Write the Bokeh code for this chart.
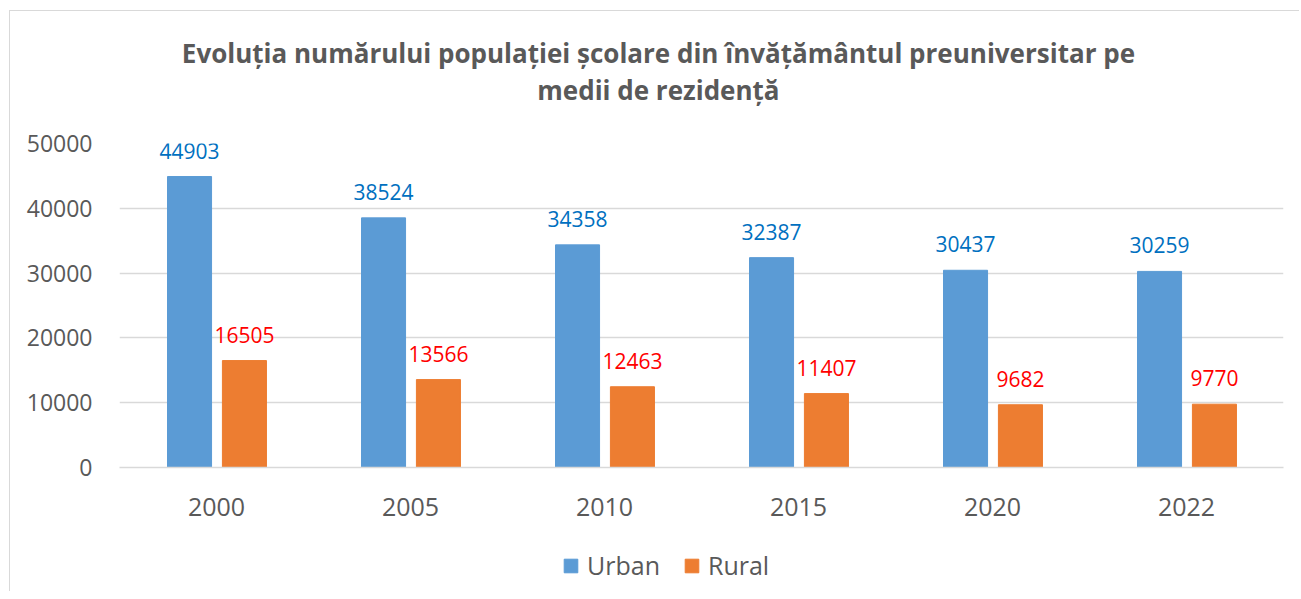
from bokeh.plotting import figure
from bokeh.layouts import column
from bokeh.models import ColumnDataSource, FactorRange, LabelSet, Label, Legend, LegendItem, FixedTicker
from bokeh.core.properties import value
from bokeh.transform import dodge
from bokeh.embed import file_html
from bokeh.resources import INLINE

years = ["2000", "2005", "2010", "2015", "2020", "2022"]
urban = [44903, 38524, 34358, 32387, 30437, 30259]
rural = [16505, 13566, 12463, 11407, 9682, 9770]
series_names = ["Urban", "Rural"]
title_lines = ["Evoluția numărului populației școlare din învățământul preuniversitar pe",
               "medii de rezidență"]
y_ticks = [0, 10000, 20000, 30000, 40000, 50000]

FONT = "Open Sans"
GRAY = "#595959"
BLUE = "#5B9BD5"
ORANGE = "#ED7D31"
W = 1289

src = ColumnDataSource(dict(year=years, urban=urban, rural=rural,
                            urban_lbl=[str(v) for v in urban],
                            rural_lbl=[str(v) for v in rural]))

# ---- title strip ----
tf = figure(width=W, height=100, output_backend="svg", toolbar_location=None,
            x_axis_type=None, y_axis_type=None, min_border=0,
            x_range=(0, 1), y_range=(0, 100))
tf.outline_line_color = None
tf.xgrid.grid_line_color = None
tf.ygrid.grid_line_color = None
for txt, yy in zip(title_lines, [59, 22]):
    tf.add_layout(Label(x=0.463, y=yy, text=txt, text_align="center", text_baseline="middle",
                        text_font=FONT, text_font_size="26px", text_font_style="bold",
                        text_color=GRAY))

# ---- chart ----
p = figure(x_range=FactorRange(*years), y_range=(0, 50000), width=W, height=410,
           output_backend="svg", toolbar_location=None,
           min_border_left=109, min_border_right=16, min_border_top=32, min_border_bottom=54)
p.outline_line_color = None

r_u = p.vbar(x=dodge("year", -0.139, range=p.x_range), top="urban", width=0.227,
             source=src, color=BLUE)
r_r = p.vbar(x=dodge("year", 0.144, range=p.x_range), top="rural", width=0.227,
             source=src, color=ORANGE)

p.add_layout(LabelSet(x=dodge("year", -0.139, range=p.x_range), y="urban", text="urban_lbl",
                      source=src, text_align="center", text_baseline="bottom", y_offset=18,
                      text_color="#0070C0", text_font=value(FONT), text_font_size="21px"))
p.add_layout(LabelSet(x=dodge("year", 0.144, range=p.x_range), y="rural", text="rural_lbl",
                      source=src, text_align="center", text_baseline="bottom", y_offset=18,
                      text_color="#FF0000", text_font=value(FONT), text_font_size="21px"))

p.yaxis.ticker = FixedTicker(ticks=y_ticks)
p.yaxis.axis_line_color = None
p.yaxis.major_tick_line_color = None
p.yaxis.minor_tick_line_color = None
p.yaxis.major_label_text_font = FONT
p.yaxis.major_label_text_font_size = "23px"
p.yaxis.major_label_text_color = GRAY
p.yaxis.major_label_standoff = 21

p.xaxis.axis_line_color = "#d9d9d9"
p.xaxis.axis_line_width = 1.5
p.xaxis.major_tick_line_color = None
p.xaxis.minor_tick_line_color = None
p.xaxis.major_label_text_font = FONT
p.xaxis.major_label_text_font_size = "25px"
p.xaxis.major_label_text_color = GRAY
p.xaxis.major_label_standoff = 24

p.xgrid.grid_line_color = None
p.ygrid.grid_line_color = "#d9d9d9"
p.ygrid.grid_line_width = 1.5

# ---- legend strip ----
leg = figure(width=W, height=70, output_backend="svg", toolbar_location=None,
             x_axis_type=None, y_axis_type=None, min_border=0,
             x_range=(0, 1), y_range=(0, 1))
leg.outline_line_color = None
leg.xgrid.grid_line_color = None
leg.ygrid.grid_line_color = None
# swatch-only renderers for the legend, kept outside the visible strip
d_u = leg.vbar(x=value(-1), top=value(-1), bottom=value(-2), width=0.1, source=src, color=BLUE)
d_r = leg.vbar(x=value(-1), top=value(-1), bottom=value(-2), width=0.1, source=src, color=ORANGE)
legend = Legend(items=[LegendItem(label=series_names[0], renderers=[d_u]),
                       LegendItem(label=series_names[1], renderers=[d_r])],
                orientation="horizontal", location=(443, 9), padding=0, margin=0,
                label_text_font=FONT, label_text_font_size="25px", label_text_color=GRAY,
                glyph_width=17, glyph_height=17, label_standoff=8, spacing=23,
                border_line_color=None, background_fill_alpha=0)
leg.add_layout(legend, "center")

layout = column(tf, p, leg, styles={"margin-left": "9px", "margin-top": "10px",
                                    "border-left": "1px solid #d9d9d9",
                                    "border-top": "1px solid #d9d9d9"})

open("out.html", "w").write(file_html(layout, INLINE))
